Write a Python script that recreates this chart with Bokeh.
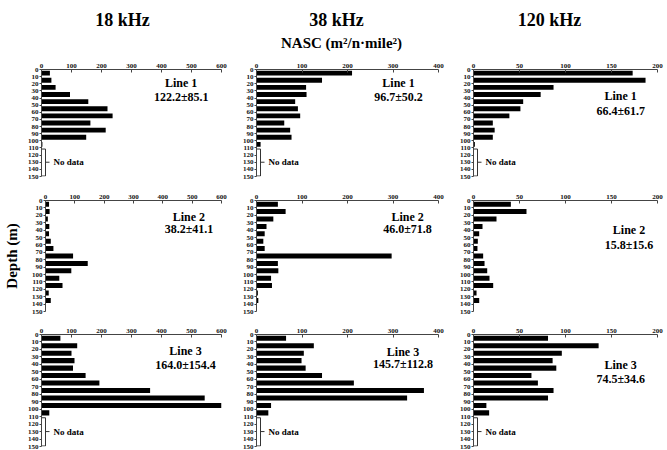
from bokeh.plotting import figure
from bokeh.layouts import column, row
from bokeh.models import Range1d, FixedTicker, AllLabels
from bokeh.embed import file_html
from bokeh.resources import INLINE
from bokeh.core.properties import value

FONT = "Liberation Serif"

# ---- data -------------------------------------------------------------
freq_labels = ["18 kHz", "38 kHz", "120 kHz"]
nasc_max = [600, 400, 200]
nasc_step = [100, 100, 50]
line_names = ["Line 1", "Line 2", "Line 3"]

# upper edge of each 10 m depth layer
depth_short = [0, 10, 20, 30, 40, 50, 60, 70, 80, 90, 100]
depth_long = [0, 10, 20, 30, 40, 50, 60, 70, 80, 90, 100, 110, 120, 130, 140]

# NASC (m2/n.mile2) per depth layer
line1_18k = [28, 33, 47, 95, 156, 220, 237, 163, 214, 149, 3]
line1_38k = [210, 144, 109, 110, 85, 91, 96, 61, 74, 77, 9]
line1_120k = [173, 187, 87, 73, 54, 51, 39, 21, 23, 21, 1.5]

line2_18k = [12, 14, 8, 13, 12, 18, 27, 94, 144, 88, 47, 58, 11, 18, 1]
line2_38k = [47, 64, 37, 22, 18, 15, 18, 297, 47, 48, 32, 34, 3, 4, 0]
line2_120k = [40.6, 57.6, 25, 9.8, 6.2, 4.7, 4.3, 10.5, 12, 14.9, 17.4, 21.4, 3.3, 6.2, 0]

line3_18k = [63, 119, 100, 110, 105, 147, 193, 362, 544, 600, 26]
line3_38k = [65, 126, 104, 99, 108, 144, 214, 368, 331, 32, 26]
line3_120k = [81, 136, 96, 86, 90, 63, 70, 87, 81, 14, 17]

# mean +/- SD of each panel
stats_line1 = ["122.2±85.1", "96.7±50.2", "66.4±61.7"]
stats_line2 = ["38.2±41.1", "46.0±71.8", "15.8±15.6"]
stats_line3 = ["164.0±154.4", "145.7±112.8", "74.5±34.6"]

# depth range without observations (None = full profile)
no_data_line = [(110, 150), None, (110, 150)]

rows_data = [
    (depth_short, [line1_18k, line1_38k, line1_120k], stats_line1),
    (depth_long, [line2_18k, line2_38k, line2_120k], stats_line2),
    (depth_short, [line3_18k, line3_38k, line3_120k], stats_line3),
]

# ---- layout -----------------------------------------------------------
col_w = [233, 217, 217]
col_border = [(41, 12), (23, 12), (23, 10)]
row_h = [126, 134, 136]
row_border = [(15, 4), (20, 3), (20, 4)]

# label anchor: (fraction of x range, depth of name, depth of stats)
label_pos = [
    [(0.776, 19.6, 38.3), (0.78, 19.6, 38.3), (0.80, 37, 58)],
    [(0.815, 22, 39), (0.83, 22, 39), (0.845, 40, 60)],
    [(0.80, 22, 41), (0.805, 23, 40), (0.80, 41, 60)],
]


def make_panel(r, c):
    depths, series, stats = rows_data[r]
    vals = series[c]
    xmax = nasc_max[c]
    left, right = col_border[c]
    top, bottom = row_border[r]
    frame_w = col_w[c] - left - right

    p = figure(width=col_w[c], height=row_h[r],
               x_range=Range1d(0, xmax), y_range=Range1d(150, 0),
               x_axis_location="above",
               min_border_left=left, min_border_right=right,
               min_border_top=top, min_border_bottom=bottom,
               toolbar_location=None, output_backend="svg")
    p.outline_line_color = None
    p.xgrid.visible = False
    p.ygrid.visible = False
    p.background_fill_color = "white"
    p.border_fill_color = "white"

    xa = p.xaxis[0]
    xa.ticker = FixedTicker(ticks=list(range(0, xmax + 1, nasc_step[c])))
    ya = p.yaxis[0]
    ya.ticker = FixedTicker(ticks=list(range(0, 151, 10)))
    for ax in (xa, ya):
        ax.major_label_policy = AllLabels()
        ax.major_label_text_font = FONT
        ax.major_label_text_font_style = "bold"
        ax.major_label_text_font_size = "7px"
        ax.major_label_text_color = "#111111"
        ax.axis_line_color = "#444444"
        ax.major_tick_line_color = "#444444"
        ax.minor_tick_line_color = None
    xa.major_tick_in = 3
    xa.major_tick_out = 0
    xa.major_label_standoff = 2
    ya.major_tick_in = 0
    ya.major_tick_out = 2
    ya.major_label_standoff = 1

    if r == 1 and c == 0:
        ya.axis_label = "Depth (m)"
        ya.axis_label_text_font = FONT
        ya.axis_label_text_font_style = "bold"
        ya.axis_label_text_font_size = "15px"
        ya.axis_label_text_color = "black"
        ya.axis_label_standoff = 9

    centers = [d + 5 for d in depths]
    p.hbar(y=centers, left=0, right=vals, height=6.8,
           fill_color="black", line_color=None)

    fx, y_name, y_stat = label_pos[r][c]
    p.text(x=[fx * xmax, fx * xmax], y=[y_name, y_stat],
           text=[line_names[r], stats[c]],
           text_font=value(FONT), text_font_style="bold",
           text_font_size="12px", text_color="black",
           text_align="center", text_baseline="middle")

    gap = no_data_line[r]
    if gap is not None:
        k = xmax / frame_w  # data units per pixel
        y0, y1 = gap[0] + 1.5, gap[1] - 0.7
        ym = (gap[0] + gap[1]) / 2
        xb, xt = 4 * k, 8 * k
        p.segment(x0=[0, xb, 0, xb], y0=[y0, y0, y1, ym],
                  x1=[xb, xb, xb, xt], y1=[y0, y1, y1, ym],
                  line_color="#333333", line_width=1)
        p.text(x=[12 * k], y=[ym], text=["No data"],
               text_font=value(FONT), text_font_style="bold",
               text_font_size="9px", text_color="black",
               text_align="left", text_baseline="middle")
    return p


# header with frequency titles and the shared NASC axis title
header = figure(width=667, height=54, x_range=Range1d(0, 667),
                y_range=Range1d(54, 0), x_axis_type=None, y_axis_type=None,
                min_border=0, toolbar_location=None, output_backend="svg")
header.outline_line_color = None
header.xgrid.visible = False
header.ygrid.visible = False
header.text(x=[122, 336, 549], y=[19, 19, 19], text=freq_labels,
            text_font=value(FONT), text_font_style="bold",
            text_font_size="18px", text_color="black",
            text_align="center", text_baseline="middle")
header.text(x=[341], y=[42], text=["NASC (m²/n·mile²)"],
            text_font=value(FONT), text_font_style="bold",
            text_font_size="15px", text_color="black",
            text_align="center", text_baseline="middle")

grid_rows = [row(*[make_panel(r, c) for c in range(3)]) for r in range(3)]
layout = column(header, *grid_rows)

open("out.html", "w").write(file_html(layout, INLINE))
